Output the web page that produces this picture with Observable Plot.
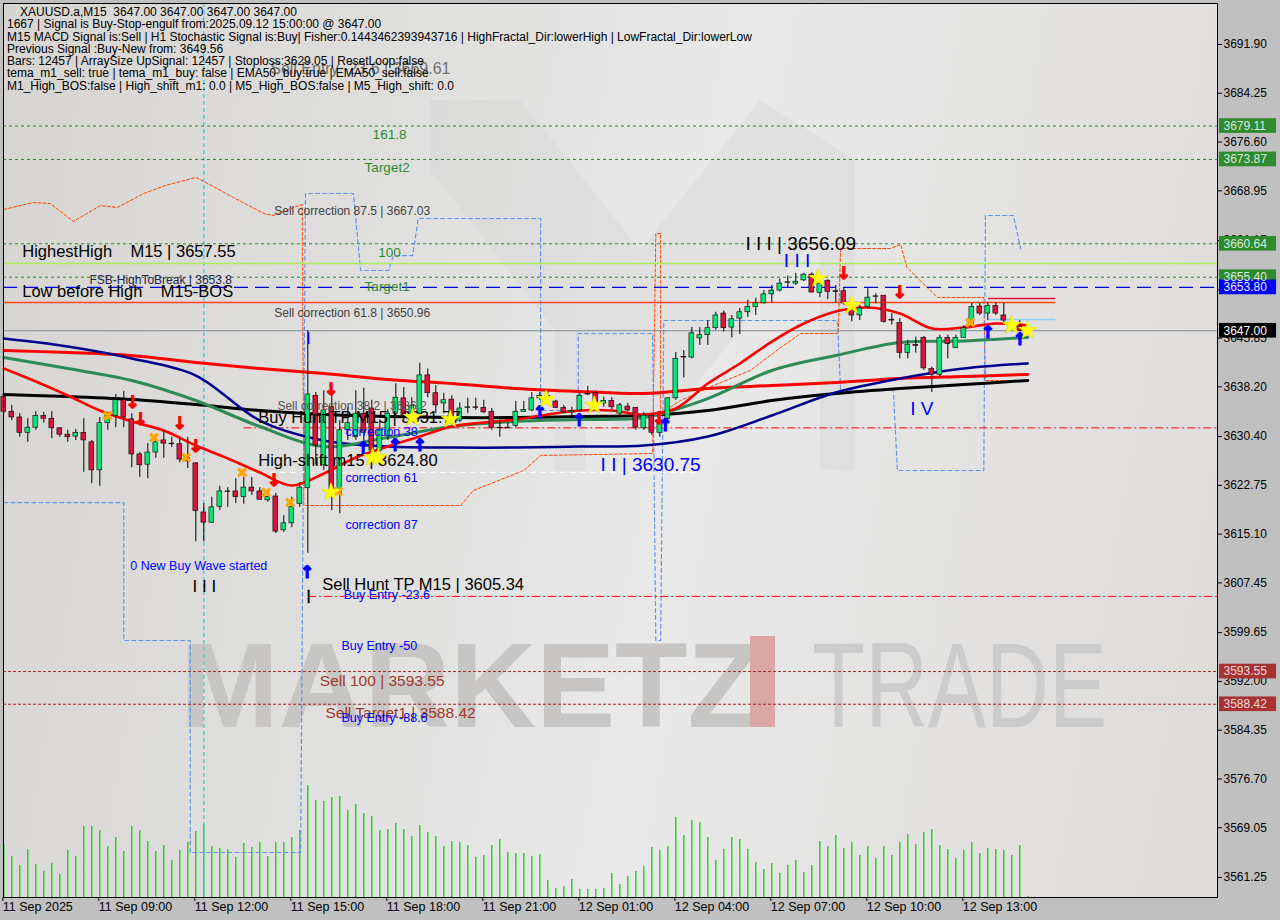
<!DOCTYPE html>
<html><head><meta charset="utf-8">
<script src="https://cdn.jsdelivr.net/npm/d3@7"></script>
<script src="https://cdn.jsdelivr.net/npm/@observablehq/plot@0.6"></script>
<style>
html,body{margin:0;padding:0;background:#c0c0c0;}
#wrap{position:relative;width:1280px;height:920px;overflow:hidden;background:#c0c0c0;font-family:"Liberation Sans",Arial,sans-serif;}
#bg{position:absolute;left:3px;top:3px;width:1214px;height:894px;background:linear-gradient(100deg,#d7d5d2 0%,#e2e2e1 40%,#e9e9e9 55%,#dddbd8 100%);}
#bg svg{position:absolute;left:0;top:0}
#chart{position:absolute;left:0;top:0}
#hdr{position:absolute;left:7px;top:6px;font-size:12px;line-height:12.3px;white-space:pre;color:#000}
#hdr div:first-child{padding-left:13px}
</style></head><body>
<div id="wrap">
<div id="bg">
<svg width="1214" height="894">
<polygon points="427,97 517,97 637,247 757,97 852,157 852,467 817,467 817,227 657,427 617,427 582,377 582,467 552,467 552,327 427,167" fill="#cfcfcf" opacity="0.3"/>
<text x="177" y="724" font-size="120" font-weight="bold" font-family="Liberation Sans" fill="#c8c6c4" textLength="580" lengthAdjust="spacingAndGlyphs">MARKETZ</text>
<rect x="747" y="633" width="25" height="91" fill="#dba6a6"/>
<text x="809" y="724" font-size="120" font-family="Liberation Sans" fill="#cccccc" textLength="295" lengthAdjust="spacingAndGlyphs">TRADE</text>
</svg>
</div>
<div id="chart"></div>
<div id="hdr"></div>
</div>
<script>
// ---------- data ----------
const headerLines = [
"XAUUSD.a,M15  3647.00 3647.00 3647.00 3647.00",
"1667 | Signal is Buy-Stop-engulf from:2025.09.12 15:00:00 @ 3647.00",
"M15 MACD Signal is:Sell | H1 Stochastic Signal is:Buy| Fisher:0.1443462393943716 | HighFractal_Dir:lowerHigh | LowFractal_Dir:lowerLow",
"Previous Signal :Buy-New from: 3649.56",
"Bars: 12457 | ArraySize UpSignal: 12457 | Stoploss:3629.05 | ResetLoop:false",
"tema_m1_sell: true | tema_m1_buy: false | EMA50_buy:true | EMA50_sell:false",
"M1_High_BOS:false | High_shift_m1: 0.0 | M5_High_BOS:false | M5_High_shift: 0.0"
];

const xTickBars = [0,12,24,36,48,60,72,84,96,108,120];
const xTickLabels = ["11 Sep 2025","11 Sep 09:00","11 Sep 12:00","11 Sep 15:00","11 Sep 18:00","11 Sep 21:00","12 Sep 01:00","12 Sep 04:00","12 Sep 07:00","12 Sep 10:00","12 Sep 13:00"];
const yTicks = [3691.90,3684.25,3676.60,3668.95,3661.15,3653.45,3645.85,3638.20,3630.40,3622.75,3615.10,3607.45,3599.65,3592.00,3584.35,3576.70,3569.05,3561.25];

const open = [
3636.6,3634.3,3633.4,3631.0,3631.8,3633.6,3633.2,3631.7,3630.7,3630.4,
3631.0,3629.5,3625.1,3632.5,3633.6,3636.1,3633.1,3627.6,3626.0,3627.9,
3629.8,3629.3,3629.2,3627.0,3626.2,3618.5,3616.9,3619.4,3621.8,3621.8,
3620.9,3622.4,3621.8,3620.4,3621.0,3615.7,3616.8,3619.8,3622.3,3636.8,
3625.9,3635.0,3621.5,3631.4,3630.3,3634.0,3634.8,3628.2,3630.5,3634.0,
3636.4,3633.7,3634.0,3640.0,3637.2,3635.6,3636.2,3632.9,3634.9,3635.0,
3634.9,3634.3,3631.8,3631.7,3632.1,3634.3,3634.5,3636.4,3636.8,3635.9,
3634.9,3634.2,3634.5,3637.0,3637.2,3635.6,3636.0,3634.0,3635.1,3634.9,
3631.7,3633.7,3631.0,3633.2,3636.4,3642.8,3642.8,3645.8,3646.3,3647.4,
3649.7,3647.5,3648.9,3649.9,3650.7,3651.3,3652.7,3653.3,3654.5,3654.4,
3654.9,3655.8,3652.9,3654.8,3653.2,3653.2,3650.7,3649.4,3650.7,3652.3,
3652.5,3648.7,3648.2,3643.5,3644.8,3645.9,3641.0,3640.1,3645.9,3644.3,
3645.9,3647.8,3650.8,3649.7,3650.9,3649.4,3648.0,3647.7,3647.0];
const high = [
3637.2,3635.3,3634.0,3633.2,3634.3,3634.2,3634.3,3631.8,3631.4,3631.5,
3633.2,3629.8,3633.4,3634.2,3637.0,3637.5,3634.0,3627.9,3629.3,3630.3,
3631.4,3630.3,3630.3,3630.3,3626.3,3619.9,3620.9,3622.6,3622.4,3623.8,
3624.0,3624.0,3622.4,3622.1,3621.5,3618.0,3620.9,3623.2,3647.0,3637.3,
3637.6,3637.3,3632.9,3635.0,3637.6,3638.0,3636.1,3633.0,3634.6,3638.7,
3638.1,3636.5,3641.9,3641.0,3638.4,3637.2,3636.8,3635.7,3636.4,3636.4,
3636.1,3634.8,3633.4,3632.6,3635.9,3635.9,3637.3,3637.3,3637.5,3636.1,
3635.3,3635.0,3637.2,3638.3,3637.6,3636.6,3636.5,3635.6,3635.6,3634.9,
3634.2,3634.0,3633.2,3636.5,3643.6,3643.9,3647.5,3647.5,3648.6,3649.9,
3650.1,3649.4,3650.5,3651.8,3652.1,3653.3,3654.1,3655.1,3655.6,3656.0,
3656.0,3656.09,3655.0,3655.0,3654.1,3653.7,3651.0,3651.0,3653.6,3652.8,
3652.5,3649.7,3648.9,3645.5,3646.0,3646.1,3641.3,3646.3,3646.3,3646.3,
3647.8,3651.3,3651.3,3651.4,3651.4,3651.3,3648.6,3648.6,3647.0];
const low = [
3634.0,3632.9,3630.3,3629.5,3631.4,3632.5,3630.1,3630.3,3629.5,3629.8,
3624.8,3623.0,3622.6,3631.4,3631.8,3631.8,3625.5,3624.0,3623.8,3627.0,
3627.0,3628.7,3626.3,3625.4,3613.9,3613.9,3616.8,3618.8,3619.3,3619.9,
3619.8,3621.2,3620.4,3620.1,3615.2,3615.4,3616.1,3619.3,3612.1,3625.9,
3625.1,3618.8,3618.3,3629.8,3629.8,3629.2,3627.4,3627.5,3629.8,3633.4,
3632.9,3632.8,3633.2,3636.5,3634.0,3634.0,3632.5,3632.6,3634.0,3634.5,
3634.0,3631.4,3630.3,3631.6,3631.8,3634.2,3634.3,3636.1,3635.8,3634.8,
3634.0,3633.5,3634.2,3636.8,3635.3,3635.0,3634.6,3633.7,3634.3,3631.4,
3631.4,3630.6,3630.3,3632.6,3636.1,3639.6,3642.6,3644.7,3644.7,3647.1,
3646.8,3645.9,3646.4,3649.1,3649.4,3651.2,3651.4,3653.1,3653.7,3654.1,
3654.7,3652.9,3652.2,3651.9,3651.4,3651.0,3648.4,3648.6,3650.4,3651.2,
3648.2,3647.9,3642.6,3642.6,3643.5,3640.8,3637.3,3639.8,3642.6,3644.2,
3645.9,3647.4,3649.4,3648.6,3649.4,3648.2,3647.4,3646.8,3647.0];
const close = [
3634.3,3633.4,3631.0,3631.8,3633.6,3633.2,3631.7,3630.7,3630.3,3631.0,
3629.8,3625.1,3632.5,3633.7,3636.1,3633.4,3627.6,3625.9,3627.9,3629.5,
3629.3,3629.2,3626.8,3626.5,3618.7,3616.9,3619.3,3621.8,3621.7,3620.9,
3622.4,3621.8,3620.5,3620.9,3615.5,3616.8,3619.4,3622.4,3637.0,3629.0,
3634.5,3621.5,3631.4,3632.5,3634.0,3631.0,3628.2,3631.5,3634.0,3636.5,
3633.7,3635.2,3640.0,3637.2,3635.3,3636.1,3632.6,3634.8,3635.0,3634.9,
3634.2,3631.8,3631.7,3631.8,3634.3,3634.6,3636.4,3636.8,3636.3,3634.9,
3634.2,3634.4,3636.8,3637.1,3635.6,3636.0,3635.0,3635.3,3634.5,3631.8,
3633.7,3631.0,3632.6,3636.4,3642.6,3642.9,3646.6,3646.3,3647.4,3649.4,
3647.4,3648.8,3649.9,3650.7,3651.3,3652.7,3653.3,3654.4,3654.6,3654.7,
3655.8,3653.0,3654.4,3653.1,3653.1,3651.3,3649.4,3650.5,3652.2,3652.4,
3648.4,3648.6,3643.5,3644.8,3644.6,3641.1,3640.1,3645.9,3644.9,3645.9,
3647.4,3650.7,3649.7,3650.9,3649.7,3648.6,3647.5,3647.0,3647.0];
const volume = [
530,410,320,480,330,260,340,230,470,410,
710,710,670,510,600,460,710,670,560,460,
520,370,470,550,660,730,510,490,480,400,
540,500,550,410,550,550,600,670,1120,970,
960,1000,1010,870,930,840,810,670,680,740,
680,610,720,650,610,510,560,550,520,400,
420,520,580,450,440,440,410,430,170,90,
110,180,80,80,80,90,240,130,210,260,
310,500,470,510,800,620,770,750,600,370,
480,600,580,480,350,280,340,240,320,370,
250,320,560,510,620,490,550,420,510,390,
510,420,550,630,530,650,680,520,480,390,
470,550,440,490,480,470,420,520,10];

// moving averages read every 8 bars (fast one every 4 bars)
const maBars = [0,8,16,24,32,40,48,56,64,72,80,88,96,104,112,120,128];
const maSlowRed = [3643.90,3643.59,3643.12,3642.02,3641.08,3640.30,3639.36,3638.73,3637.95,3637.48,3637.16,3637.95,3638.42,3638.89,3639.51,3639.83,3640.14];
const maBlack   = [3636.99,3636.69,3636.22,3635.43,3634.49,3633.87,3633.55,3633.39,3633.39,3633.55,3633.71,3634.49,3636.06,3637.16,3637.95,3638.57,3639.20];
const maNavy    = [3645.79,3644.53,3642.65,3639.98,3632.92,3629.79,3628.85,3628.69,3628.69,3628.85,3629.00,3630.42,3633.71,3637.32,3639.51,3641.08,3641.87];
const maGreen   = [3642.81,3641.08,3639.20,3636.06,3631.98,3628.85,3630.26,3631.98,3632.77,3633.08,3633.39,3636.37,3640.77,3643.12,3645.16,3645.40,3645.94];
const fastBars  = [0,4,8,12,16,20,24,28,32,36,40,44,48,52,56,60,64,68,72,76,80,84,88,92,96,100,104,108,112,116,120,124,128];
const maFastRed = [3641.08,3639.04,3636.85,3634.49,3632.77,3631.35,3629.00,3626.96,3624.77,3622.73,3624.61,3627.12,3628.85,3630.42,3631.98,3632.61,3633.08,3633.87,3634.49,3634.49,3633.87,3634.81,3638.73,3641.86,3645.31,3648.14,3650.03,3650.65,3649.71,3647.35,3647.51,3648.14,3647.83];

// stepped channel lines
const orangeBar   = [0,3.7,5.8,8.7,12.1,14.2,17.5,20.2,24.0,25.5,28.7,32.5,33.7,36.2,37.3,37.5,57.1,58.7,65.0,67.1,81.1,81.5,82.1,82.1,84.6,88.7,93.3,97.1,99.6,104.3,104.6,110.8,112.1,112.9,115.8,116.7,122.5,122.7,128.0];
const orangePrice = [3666.02,3667.12,3666.96,3664.14,3666.65,3666.33,3668.53,3669.78,3671.04,3670.10,3667.90,3665.39,3665.08,3666.33,3666.80,3619.59,3619.59,3621.95,3625.08,3627.44,3627.75,3662.25,3662.25,3634.02,3636.06,3638.41,3640.77,3644.37,3646.57,3646.57,3659.90,3659.90,3660.53,3656.92,3653.31,3652.22,3652.22,3639.20,3639.20];
const blueBar   = [0,15.0,15.0,23.3,23.3,37.1,37.7,43.7,44.6,48.1,48.7,51.1,51.8,54.0,67.1,67.1,71.8,71.8,81.1,81.5,82.1,82.5,104.2,104.6,111.2,111.7,122.5,122.7,126.2,127.1];
const bluePrice = [3620.06,3620.06,3598.42,3598.42,3565.17,3565.17,3668.53,3668.53,3656.45,3656.45,3658.80,3658.80,3664.61,3664.61,3664.61,3634.49,3634.49,3646.57,3646.57,3598.42,3598.42,3648.61,3648.61,3637.63,3637.63,3625.08,3625.08,3665.08,3665.08,3659.90];

// horizontal levels
const levelPrice = [3679.11,3673.87,3660.64,3655.40,3657.55,3653.80,3651.43,3647.00,3631.77,3624.80,3605.34,3593.55,3588.42,3652.06,3648.77];
const levelFrom  = [-0.04,-0.04,-0.04,-0.04,-0.04,-0.04,-0.04,-0.04,30,30.8,38.1,-0.04,-0.04,123.1,123.1];
const levelTo    = [151.71,151.71,151.71,151.71,151.71,151.71,131.5,151.71,151.71,87,151.71,151.71,151.71,131.5,131.5];
const levelColor = ["#1f8f1f","#1f8f1f","#1f8f1f","#1f8f1f","#b0ec5a","#0000dd","#ff4500","#7f8a96","#ff0000","#ffffff","#ff0000","#a52a2a","#a52a2a","#dc143c","#87cefa"];
const levelDash  = ["3,3","3,3","3,3","3,3",null,"14,7",null,null,"8,3,2,3","6,4","8,3,2,3","3,2","3,2",null,null];
const levelWidth = [1,1,1,1,1.5,1.2,1.3,1,1,1,1,1,1,1.5,1.5];

// right-axis price boxes
const boxPrice = [3679.11,3673.87,3660.64,3655.40,3653.80,3647.00,3593.55,3588.42];
const boxFill  = ["#2e8b2e","#2e8b2e","#2e8b2e","#2e8b2e","#0000ff","#000000","#a83232","#a83232"];
const boxInk   = ["#dfe8df","#dfe8df","#dfe8df","#dfe8df","#e8e8ff","#ffffff","#f3dada","#f3dada"];

// text annotations (anchor bar, anchor price)
const noteText = ["Sell Entry -23.6 | 3669.61","161.8","Target2","Sell correction 87.5 | 3667.03","HighestHigh    M15 | 3657.55","100","FSB-HighToBreak | 3653.8","Low before High    M15-BOS","Target1","Sell correction 61.8 | 3650.96","I","Sell correction 38.2 | 3636.2","Buy Hunt TP M15 | 3631.77","correction 38","High-shift m15 | 3624.80","correction 61","correction 87","0 New Buy Wave started","I I I","Sell Hunt TP M15 | 3605.34","Buy Entry -23.6","Buy Entry -50","Sell 100 | 3593.55","Sell Target1 | 3588.42","Buy Entry -88.6","I I | 3630.75","I I I | 3656.09","I I I","I V"];
const noteBar   = [33.3,46.1,45.1,33.8,2.3,46.8,10.7,2.3,45.1,33.8,37.8,34.2,31.8,42.7,31.8,42.7,42.7,15.8,23.6,39.8,42.5,42.2,39.5,40.2,42.2,74.6,92.7,97.5,113.3];
const notePrice = [3688.13,3677.78,3672.61,3665.71,3659.43,3659.27,3654.88,3653.16,3653.94,3649.71,3645.79,3635.12,3633.39,3631.20,3626.65,3623.98,3616.46,3610.18,3606.87,3607.20,3605.60,3597.60,3592.10,3586.97,3586.20,3626.02,3660.69,3658.02,3634.81];
const noteColor = ["#707070","#2e8b2e","#2e8b2e","#404040","#000000","#2e8b2e","#23234a","#000000","#2e8b2e","#404040","#0000ff","#555555","#000000","#0000ff","#000000","#0000ff","#0000ff","#0000ff","#000000","#000000","#0000ff","#0000ff","#a0382a","#a0382a","#0000ff","#0000ff","#000000","#0000ff","#0000ff"];
const noteSize  = [16,13.5,13.5,12,16.5,13.5,12,16.5,13.5,12,16,12,16.5,12.5,16.5,12.5,12.5,12.5,17,16.5,12.5,12.5,15.5,15.5,12.5,19,19,19,19];

// signal markers
const downBar = [16.1,17.1,22,24,33.8,40.9,81.9,105,112];
const downPrice = [3635.75,3633.08,3632.45,3628.85,3623.51,3637.79,3633.2,3655.98,3653.0];
const upBar = [37.9,44.9,48.9,52,67,71.9,82.7,123,127];
const upPrice = [3609.0,3628.53,3629.0,3629.0,3634.18,3632.92,3632.14,3646.73,3645.63];
const starBar = [40.9,46.1,46.8,51.1,55.8,67.8,73.8,101.8,106,126,128];
const starPrice = [3621.6,3627.1,3627.1,3633.4,3633.1,3636.2,3635.3,3655.2,3650.96,3647.8,3647.0];
const crossBar = [13,18.8,22.8,29.8,32.8,35.8,41.8,120.8];
const crossPrice = [3633.55,3630.10,3626.96,3624.61,3621.47,3619.90,3621.63,3648.14];

// ---------- build ----------
const hdr = document.getElementById("hdr");
headerLines.forEach(t => { const d = document.createElement("div"); d.textContent = t; hdr.appendChild(d); });

const xDomain = [-0.04, 151.71];
const yDomain = [3558.11, 3698.33];
const pxPerPrice = 894 / (yDomain[1] - yDomain[0]);
const volK = 0.1 / pxPerPrice;
const xEnd = xDomain[1];

const candles = open.map((o, i) => ({i, o, h: high[i], l: low[i], c: close[i], v: volume[i]}));
const mkLine = (bars, vals) => bars.map((b, k) => ({b, v: vals[k]}));
const levels = levelPrice.map((p, k) => ({p, a: levelFrom[k], z: levelTo[k], col: levelColor[k], dash: levelDash[k], w: levelWidth[k]}));
const boxes = boxPrice.map((p, k) => ({p, fill: boxFill[k], ink: boxInk[k]}));
const notes = noteText.map((t, k) => ({t, b: noteBar[k], p: notePrice[k], col: noteColor[k], s: noteSize[k]}));
const pts = (bars, prices) => bars.map((b, k) => ({b, p: prices[k]}));
const labelOf = new Map(xTickBars.map((b, k) => [b, xTickLabels[k]]));

const F = "Liberation Sans, Arial, sans-serif";
const marks = [
  Plot.ruleX(candles, {x: "i", y1: () => yDomain[0], y2: d => yDomain[0] + d.v * volK, stroke: "#32cd32", strokeWidth: 1.5}),
  Plot.ruleX([25], {x: d => d, stroke: "#1fd5e0", strokeWidth: 1.2, strokeDasharray: "4,3"}),
  Plot.line(pts(orangeBar, orangePrice), {x: "b", y: "p", stroke: "#ff4500", strokeWidth: 1, strokeDasharray: "3,2"}),
  Plot.line(pts(blueBar, bluePrice), {x: "b", y: "p", stroke: "#6495ed", strokeWidth: 1.2, strokeDasharray: "4,3"}),
];
levels.forEach(L => marks.push(Plot.ruleY([L], {y: "p", x1: "a", x2: "z", stroke: L.col, strokeWidth: L.w, strokeDasharray: L.dash || undefined})));
marks.push(
  Plot.ruleX([38.1], {x: d => d, y1: () => 3604.2, y2: () => 3606.3, stroke: "black", strokeWidth: 2}),
  Plot.line(mkLine(maBars, maSlowRed), {x: "b", y: "v", stroke: "#ff0000", strokeWidth: 3, curve: "catmull-rom"}),
  Plot.line(mkLine(maBars, maBlack), {x: "b", y: "v", stroke: "#000000", strokeWidth: 3, curve: "catmull-rom"}),
  Plot.line(mkLine(maBars, maNavy), {x: "b", y: "v", stroke: "#00008b", strokeWidth: 2.5, curve: "catmull-rom"}),
  Plot.line(mkLine(maBars, maGreen), {x: "b", y: "v", stroke: "#2e8b57", strokeWidth: 3, curve: "catmull-rom"}),
  Plot.line(mkLine(fastBars, maFastRed), {x: "b", y: "v", stroke: "#ff0000", strokeWidth: 2.6, curve: "catmull-rom"}),
  Plot.ruleX(candles, {x: "i", y1: "l", y2: "h", stroke: "black", strokeWidth: 1}),
  Plot.rect(candles, {x1: d => d.i - 0.3, x2: d => d.i + 0.3, y1: "o", y2: "c",
    fill: d => d.c > d.o ? "#00e676" : (d.c < d.o ? "#dc143c" : "#000"), stroke: "black", strokeWidth: 0.6}),
  Plot.text(notes, {x: "b", y: "p", text: "t", fill: "col", fontSize: "s", textAnchor: "start", fontFamily: F}),
  Plot.text(pts(downBar, downPrice), {x: "b", y: "p", text: () => "↓", fill: "#ff0000", stroke: "#ff0000", strokeWidth: 1.2, fontSize: 17, fontWeight: "bold", fontFamily: "DejaVu Sans"}),
  Plot.text(pts(upBar, upPrice), {x: "b", y: "p", text: () => "↑", fill: "#0000ff", stroke: "#0000ff", strokeWidth: 1.2, fontSize: 17, fontWeight: "bold", fontFamily: "DejaVu Sans"}),
  Plot.text(pts(crossBar, crossPrice), {x: "b", y: "p", text: () => "✖", fill: "#ffa500", fontSize: 15, fontFamily: "DejaVu Sans"}),
  Plot.text(pts(starBar, starPrice), {x: "b", y: "p", text: () => "★", fill: "#ffff00", stroke: "#d8c200", strokeWidth: 0.6, fontSize: 24, fontFamily: "DejaVu Sans"}),
  Plot.frame({stroke: "black", strokeWidth: 1}),
  Plot.axisY(yTicks, {anchor: "right", tickSize: 4, tickPadding: 2, tickFormat: d => d.toFixed(2), fontSize: 12, fontFamily: F, fill: "black", stroke: "black"}),
  Plot.axisX(xTickBars, {anchor: "bottom", tickSize: 4, tickPadding: 1, tickFormat: d => labelOf.get(d), textAnchor: "start", dx: -1, fontSize: 12.5, fontFamily: F, fill: "black"}),
  Plot.rect(boxes, {x1: () => xEnd + 0.25, x2: () => xEnd + 7.38, y1: d => d.p - 1.15, y2: d => d.p + 1.15, fill: "fill"}),
  Plot.text(boxes, {x: () => xEnd + 0.75, y: "p", text: d => d.p.toFixed(2), fill: "ink", fontSize: 12, textAnchor: "start", fontFamily: F})
);

const chart = Plot.plot({
  width: 1280, height: 920,
  marginLeft: 3, marginRight: 63, marginTop: 3, marginBottom: 23,
  x: {type: "linear", domain: xDomain, axis: null},
  y: {domain: yDomain, axis: null},
  style: {background: "none", overflow: "visible", fontFamily: F},
  marks
});
document.getElementById("chart").appendChild(chart);
</script>
</body></html>
